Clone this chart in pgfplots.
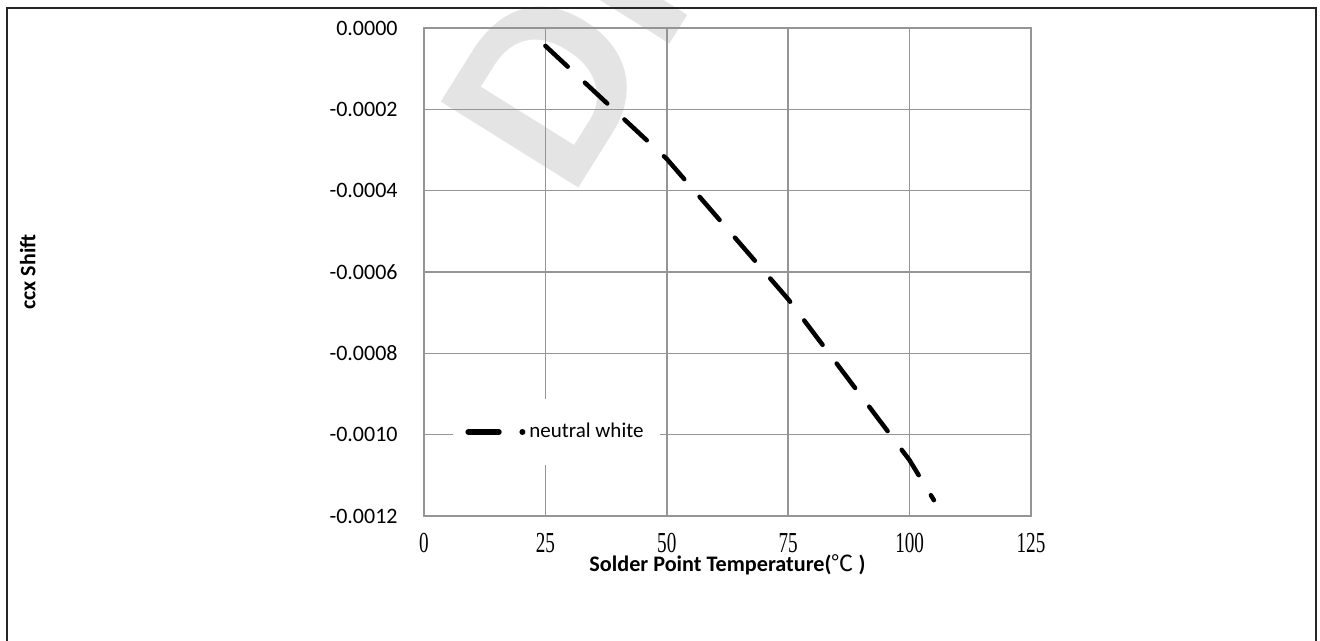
\documentclass[border=0pt]{standalone}
\usepackage{pgfplots}
\pgfplotsset{compat=1.18}
\usepackage{fontspec}
\setmainfont{Carlito}
\newfontfamily\serifnum{Liberation Serif}
\newfontfamily\cjk{Noto Sans CJK SC}
\newfontfamily\wmfont{Liberation Sans}
\definecolor{gridgray}{HTML}{959595}
\definecolor{wm}{HTML}{E4E4E4}
\begin{document}
\begin{tikzpicture}
\useasboundingbox (0,0) rectangle (660pt,320.5pt);
\node[anchor=base west, rotate=58, inner sep=0pt, text=wm, font=\wmfont\bfseries\fontsize{118}{120}\selectfont] at (285.25pt,219.35pt) {DI};
\begin{axis}[
  at={(212pt,62.5pt)}, anchor=south west,
  scale only axis, width=303.5pt, height=244pt,
  xmin=0, xmax=125, ymin=-0.0012, ymax=0,
  xtick={0,25,50,75,100,125},
  ytick={-0.0012,-0.0010,-0.0008,-0.0006,-0.0004,-0.0002,0},
  scaled y ticks=false,
  grid=major, grid style={gridgray, line width=0.75pt},
  axis line style={gridgray, line width=0.75pt},
  major tick length=0pt,
  /pgf/number format/assume math mode=true,
  xticklabel style={font=\serifnum\fontsize{14.5}{16}\selectfont, xscale=0.66, inner sep=0pt, anchor=north, yshift=-8.5pt},
  yticklabel style={font=\fontsize{11}{13}\selectfont, inner sep=0pt, anchor=east, xshift=-13pt, /pgf/number format/.cd, fixed, fixed zerofill, precision=4},
  xlabel={\textbf{Solder Point Temperature(}{\cjk ℃}\hspace{2.5pt}\textbf{)}},
  xlabel style={font=\fontsize{11.1}{13}\selectfont, at={(axis description cs:0.5,0)}, anchor=base, yshift=-28pt},
  ylabel={\textbf{ccx Shift}},
  ylabel style={font=\fontsize{11}{13}\selectfont, at={(axis description cs:-0.653,0.5)}, anchor=center},
  legend style={at={(rel axis cs:0.0478,0.104)}, anchor=south west, draw=none, fill=white,
    inner xsep=6pt, inner ysep=10pt, font=\fontsize{10.5}{12}\selectfont, cells={anchor=west}},
  legend image code/.code={\draw[#1, line width=2.9pt] (0pt,0pt) -- (27.1pt,0pt);},
]
\addplot[black, line width=2.25pt, line cap=round, line join=round, dash pattern=on 15.25pt off 11.75pt]
  coordinates {(25,-0.000044) (50,-0.000322) (75,-0.000667) (100,-0.001063) (105,-0.001161)};
\addlegendentry{neutral white}
\end{axis}
\draw[black!85, line width=0.8pt] (3.5pt,0pt) -- (3.5pt,316.5pt) -- (658pt,316.5pt) -- (658pt,0pt);
\end{tikzpicture}
\end{document}
